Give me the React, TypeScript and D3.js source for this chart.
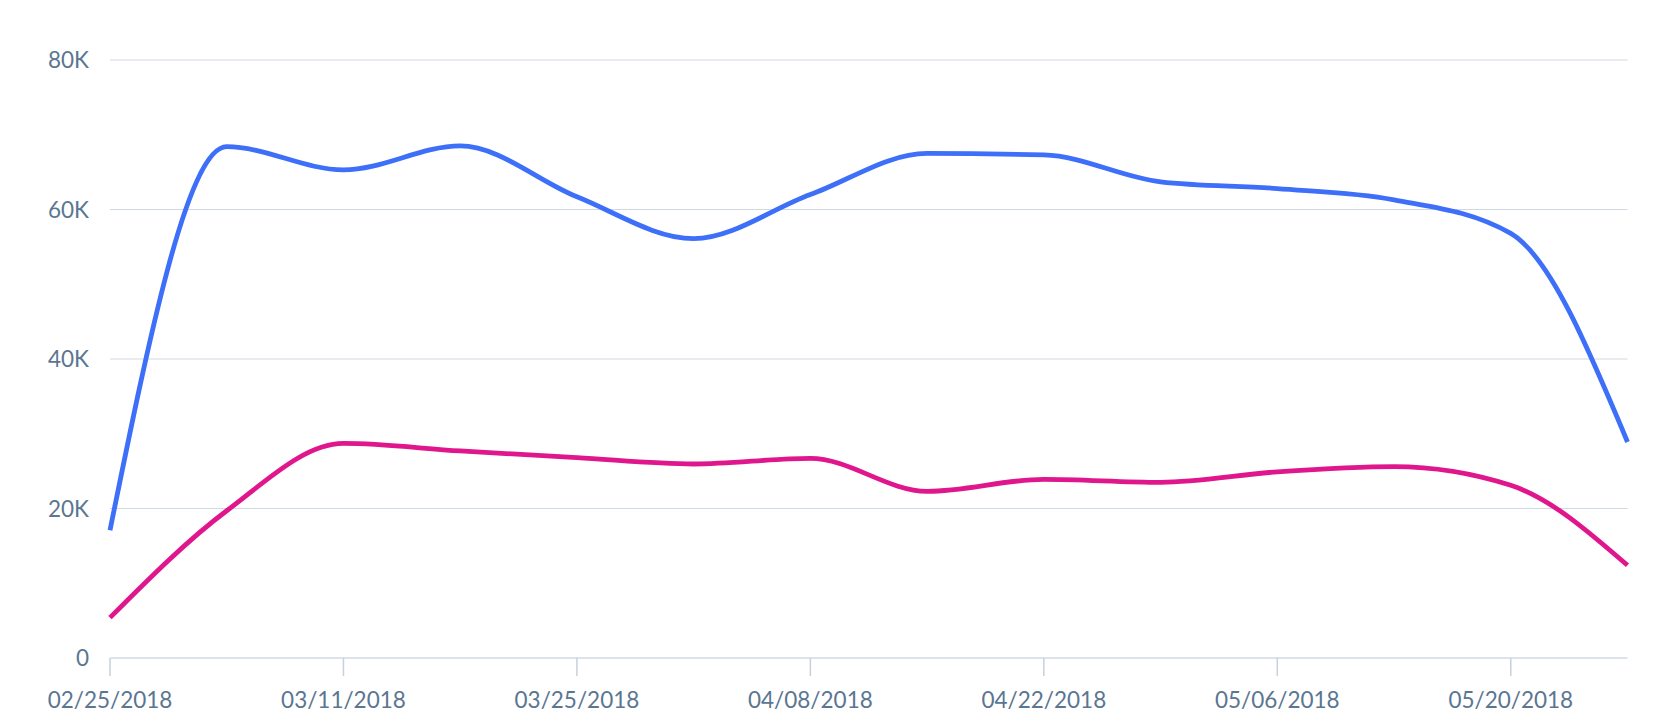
import React from "react";
import * as d3 from "d3";

const weeks: string[] = [
  "2018-02-25", "2018-03-04", "2018-03-11", "2018-03-18", "2018-03-25", "2018-04-01", "2018-04-08",
  "2018-04-15", "2018-04-22", "2018-04-29", "2018-05-06", "2018-05-13", "2018-05-20", "2018-05-27",
];
const blueSeries: number[] = [17100, 68400, 65300, 68500, 61700, 56100, 62000, 67500, 67300, 63700, 62800, 61300, 56800, 28900];
const pinkSeries: number[] = [5400, 19700, 28700, 27700, 26800, 25950, 26700, 22300, 23900, 23500, 24900, 25600, 23100, 12400];
const yTicks: number[] = [0, 20000, 40000, 60000, 80000];
const xTickDates: string[] = ["2018-02-25", "2018-03-11", "2018-03-25", "2018-04-08", "2018-04-22", "2018-05-06", "2018-05-20"];

const W = 1654;
const H = 722;
const parse = d3.timeParse("%Y-%m-%d");
const fmtDate = d3.timeFormat("%m/%d/%Y");
const fmtY = (v: number) => (v === 0 ? "0" : `${v / 1000}K`);

export default function App() {
  const dates = weeks.map((d) => parse(d) as Date);
  const x = d3.scaleTime().domain([dates[0], dates[dates.length - 1]]).range([110, 1627.5]);
  const y = d3.scaleLinear().domain([0, 80000]).range([658, 60]);
  const line = d3
    .line<number>()
    .x((_, i) => x(dates[i]))
    .y((v) => y(v))
    .curve(d3.curveMonotoneX);
  const textColor = "#5a7691";
  const font = "Lato, 'Open Sans', sans-serif";
  return (
    <svg width={W} height={H} style={{ position: "absolute", left: 0, top: 0, background: "#fff" }}>
      {yTicks.filter((t) => t > 0).map((t) => (
        <line key={t} x1={110} x2={1627.5} y1={y(t)} y2={y(t)} stroke="#d0d9e1" strokeWidth={1} />
      ))}
      <line x1={110} x2={1627.5} y1={y(0)} y2={y(0)} stroke="#dce3ea" strokeWidth={2} />
      {xTickDates.map((d) => {
        const xx = x(parse(d) as Date);
        return (
          <g key={d}>
            <line x1={xx} x2={xx} y1={658} y2={676} stroke="#c6d1db" strokeWidth={1.5} />
            <text x={xx} y={708} textAnchor="middle" fill={textColor} fontFamily={font} fontSize={22.5}>
              {fmtDate(parse(d) as Date)}
            </text>
          </g>
        );
      })}
      {yTicks.map((t) => (
        <text key={t} x={89} y={y(t) + 8} textAnchor="end" fill={textColor} fontFamily={font} fontSize={22.5}>
          {fmtY(t)}
        </text>
      ))}
      <path d={line(pinkSeries) || ""} fill="none" stroke="#e0168d" strokeWidth={4.8} />
      <path d={line(blueSeries) || ""} fill="none" stroke="#3d6ff8" strokeWidth={4.8} />
    </svg>
  );
}
